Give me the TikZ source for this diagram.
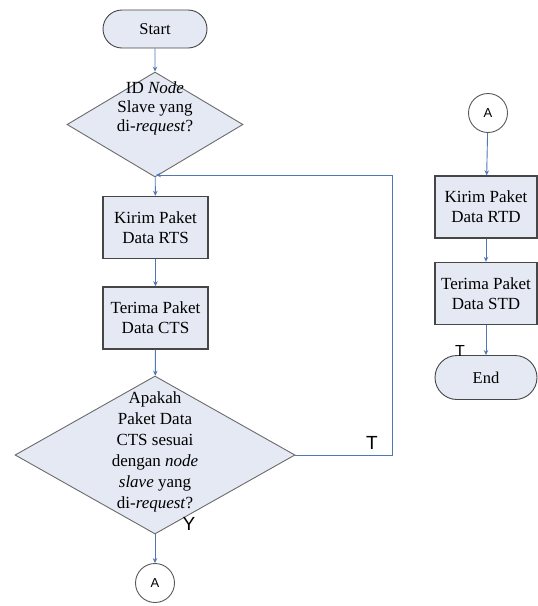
\documentclass[tikz,border=0pt]{standalone}
\usepackage{fontspec}
\setmainfont{Liberation Serif}
\setsansfont{Liberation Sans}
\usetikzlibrary{shapes.geometric,shapes.misc,arrows.meta}
\definecolor{fillc}{RGB}{228,233,243}
\definecolor{linec}{RGB}{79,120,180}
\definecolor{edgec}{RGB}{70,70,70}
\tikzset{
  term/.style={rounded rectangle, draw=edgec, line width=0.9pt, fill=fillc, inner sep=0pt,
    font=\fontsize{16.5}{19}\selectfont},
  proc/.style={rectangle, draw=edgec, line width=1.4pt, fill=fillc, inner sep=0pt,
    minimum width=105pt, minimum height=62pt, align=center, font=\fontsize{17}{20}\selectfont},
  dec/.style={diamond, draw=edgec!80, line width=0.9pt, fill=fillc, inner sep=0pt},
  dtext/.style={align=center, inner sep=0pt},
  conn/.style={circle, draw=edgec!90, line width=0.9pt, fill=white, inner sep=0pt,
    minimum size=39pt, font=\sffamily\fontsize{13}{15}\selectfont},
  flow/.style={draw=linec, line width=0.9pt, -{Stealth[length=5pt,width=4.5pt]}},
  lbl/.style={font=\sffamily\fontsize{19}{21}\selectfont, inner sep=0pt}
}
\begin{document}
\begin{tikzpicture}[x=1pt,y=-1pt]
\useasboundingbox (0,0) rectangle (538,606);
% left column
\node[term, minimum width=104pt, minimum height=38pt] (start) at (155,29) {Start};
\node[dec, minimum width=176pt, minimum height=105pt] (d1) at (155,124.5) {};
\node[dtext, font=\fontsize{17}{19}\selectfont] (d1t) at (155,108) {ID \textit{Node}\\Slave yang\\di-\textit{request}?};
\node[proc] (b1) at (155.5,227.5) {Kirim Paket\\Data RTS};
\node[proc] (b2) at (155.5,318) {Terima Paket\\Data CTS};
\node[dec, minimum width=280pt, minimum height=158pt] (d2) at (155,455) {};
\node[dtext, font=\fontsize{17}{21}\selectfont] (d2t) at (155,452) {Apakah\\Paket Data\\CTS sesuai\\dengan \textit{node}\\\textit{slave} yang\\di-\textit{request}?};
\node[conn] (a1) at (155,583) {A};
% right column
\node[conn] (a2) at (488,113) {A};
\node[proc, minimum width=102pt] (r1) at (486,207) {Kirim Paket\\Data RTD};
\node[proc, minimum width=102pt] (r2) at (486,293.5) {Terima Paket\\Data STD};
\node[term, minimum width=102pt, minimum height=44pt] (end) at (486,377.5) {End};
% helper coordinates
\coordinate (corner) at (392,455);
\coordinate (join) at (156,175);
% connectors
\draw[flow] (start) -- (d1);
\draw[flow] (d1) -- (b1);
\draw[flow] (b1) -- (b2);
\draw[flow] (b2) -- (d2);
\draw[flow] (d2) -- (a1);
\draw[flow] (d2.east) -- (corner) |- (join);
\draw[flow] (a2) -- (r1);
\draw[flow] (r1) -- (r2);
\draw[flow] (r2) -- (end);
% labels
\node[lbl] (lt) at (372,443) {T};
\node[lbl] (ly) at (189,524) {Y};
\node[lbl, font=\sffamily\fontsize{16}{18}\selectfont] (lt2) at (460,351) {T};
\end{tikzpicture}
\end{document}
